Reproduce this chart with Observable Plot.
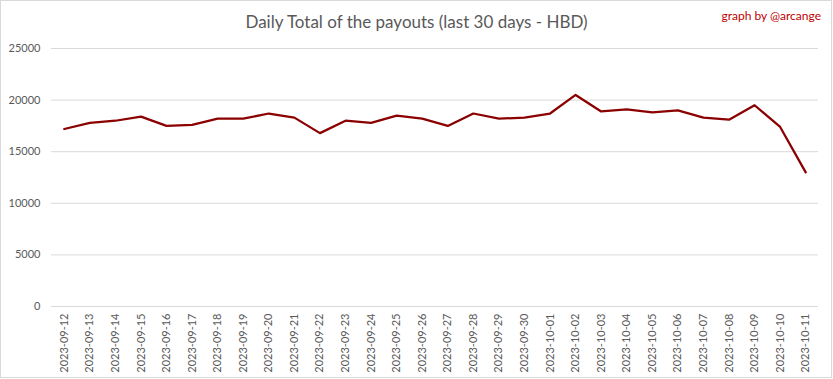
<!DOCTYPE html>
<html>
<head>
<meta charset="utf-8">
<script src="https://cdn.jsdelivr.net/npm/d3@7"></script>
<script src="https://cdn.jsdelivr.net/npm/@observablehq/plot@0.6"></script>
<style>
  html, body { margin: 0; padding: 0; background: #fff; }
  #wrap { position: relative; width: 833px; height: 379px; overflow: hidden; }
  #frame { position: absolute; left: 0; top: 0; width: 832px; height: 378px; box-sizing: border-box; border: 1px solid #d9d9d9; pointer-events: none; }
  #title { position: absolute; left: 0; width: 833px; top: 11px; text-align: center; font-family: Lato, "Open Sans", sans-serif; font-size: 17px; color: #595959; }
  #credit { position: absolute; right: 12px; top: 8px; font-family: Lato, "Open Sans", sans-serif; font-size: 12px; color: #c00000; }
  #chart { position: absolute; left: 0; top: 0; }
</style>
</head>
<body>
<div id="wrap">
  <div id="chart"></div>
  <div id="title">Daily Total of the payouts (last 30 days - HBD)</div>
  <div id="credit">graph by @arcange</div>
  <div id="frame"></div>
</div>
<script>
const dates = [
  "2023-09-12","2023-09-13","2023-09-14","2023-09-15","2023-09-16","2023-09-17",
  "2023-09-18","2023-09-19","2023-09-20","2023-09-21","2023-09-22","2023-09-23",
  "2023-09-24","2023-09-25","2023-09-26","2023-09-27","2023-09-28","2023-09-29",
  "2023-09-30","2023-10-01","2023-10-02","2023-10-03","2023-10-04","2023-10-05",
  "2023-10-06","2023-10-07","2023-10-08","2023-10-09","2023-10-10","2023-10-11"
];
const payouts = [
  17200, 17800, 18000, 18400, 17500, 17600,
  18200, 18200, 18700, 18300, 16800, 18000,
  17800, 18500, 18200, 17500, 18700, 18200,
  18300, 18700, 20500, 18900, 19100, 18800,
  19000, 18300, 18100, 19500, 17400, 13000
];
const yTicks = [0, 5000, 10000, 15000, 20000, 25000];

const data = dates.map((d, i) => ({date: d, value: payouts[i]}));

const chart = Plot.plot({
  width: 833,
  height: 379,
  marginTop: 48,
  marginBottom: 73,
  marginLeft: 51,
  marginRight: 15,
  style: {fontFamily: "Lato, 'Open Sans', sans-serif", fontSize: "11px", color: "#595959", background: "transparent"},
  x: {type: "point", domain: dates, padding: 0.5, align: 0.5, round: false, label: null},
  y: {domain: [0, 25000], label: null},
  marks: [
    Plot.gridY(yTicks.filter(t => t > 0), {stroke: "#d9d9d9", strokeOpacity: 1, strokeWidth: 1}),
    Plot.ruleY([0], {stroke: "#d9d9d9", strokeWidth: 1}),
    Plot.axisY(yTicks, {tickSize: 0, tickPadding: 11, fill: "#595959", fontSize: 11, label: null, tickFormat: d => String(d)}),
    Plot.axisX(dates, {tickSize: 0, tickRotate: -90, tickPadding: 7, fill: "#595959", fontSize: 11, label: null}),
    Plot.line(data, {x: "date", y: "value", stroke: "#8b0000", strokeWidth: 2.25, strokeLinejoin: "round"})
  ]
});
document.getElementById("chart").appendChild(chart);
</script>
</body>
</html>
